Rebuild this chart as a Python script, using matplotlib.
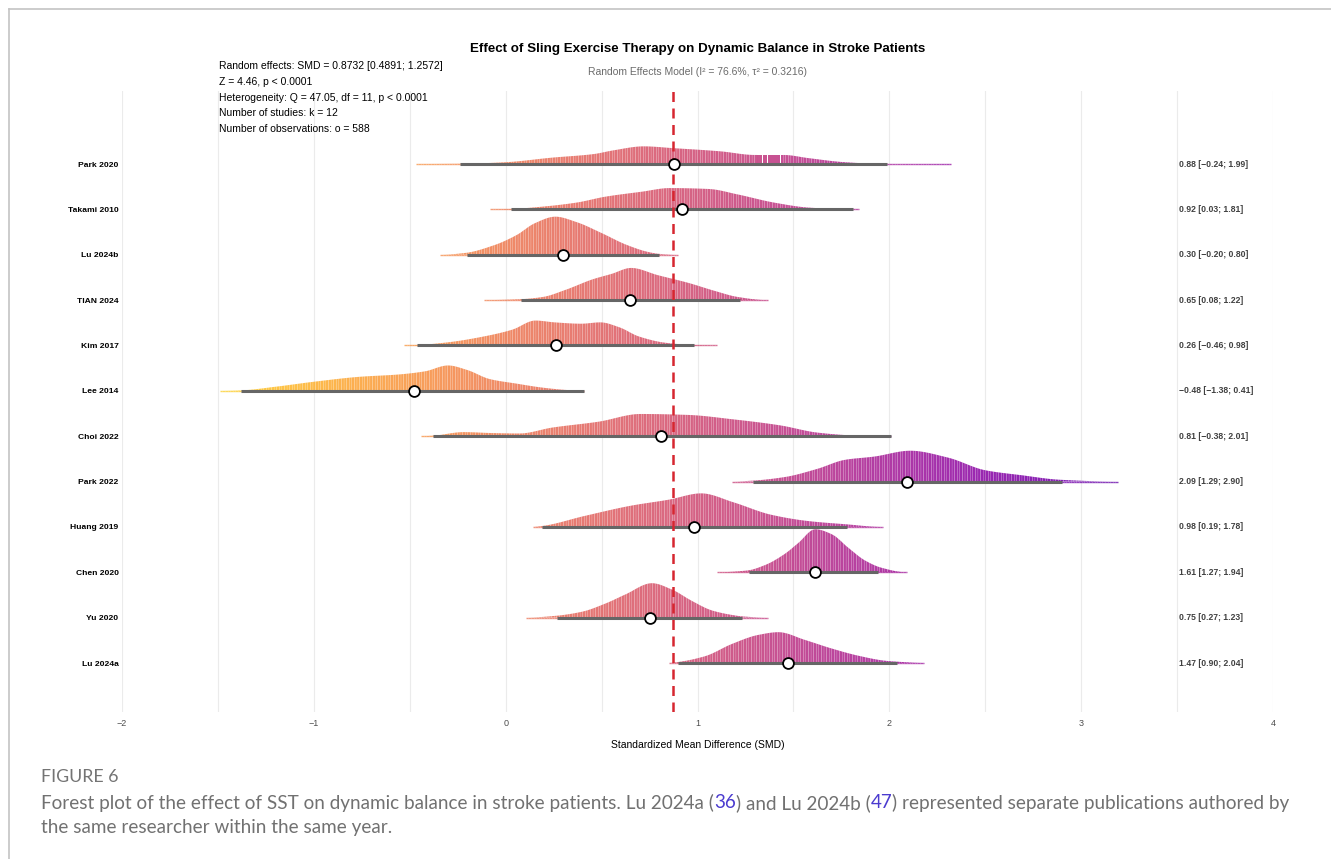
import numpy as np
import matplotlib
matplotlib.use("Agg")
import matplotlib.pyplot as plt
from matplotlib.collections import PolyCollection, LineCollection
from matplotlib.colors import ListedColormap, Normalize
from matplotlib.lines import Line2D

# ---- study-level results ----
studies = ["Park 2020", "Takami 2010", "Lu 2024b", "TIAN 2024", "Kim 2017", "Lee 2014",
           "Choi 2022", "Park 2022", "Huang 2019", "Chen 2020", "Yu 2020", "Lu 2024a"]
smd = [0.88, 0.92, 0.30, 0.65, 0.26, -0.48, 0.81, 2.09, 0.98, 1.61, 0.75, 1.47]
ci_lower = [-0.24, 0.03, -0.20, 0.08, -0.46, -1.38, -0.38, 1.29, 0.19, 1.27, 0.27, 0.90]
ci_upper = [1.99, 1.81, 0.80, 1.22, 0.98, 0.41, 2.01, 2.90, 1.78, 1.94, 1.23, 2.04]
pooled_smd = 0.8732

# ---- resampled effect-size densities (x in SMD, height in row units) ----
park2020_x = [-0.47, -0.24, 0.0, 0.24, 0.46, 0.56, 0.72, 0.875, 1.12, 1.30, 1.45, 1.58, 1.77, 1.99, 2.32]
park2020_h = [0.0, 0.005, 0.04, 0.14, 0.22, 0.30, 0.39, 0.35, 0.28, 0.20, 0.20, 0.13, 0.04, 0.0, 0.0]
takami2010_x = [-0.08, 0.03, 0.19, 0.37, 0.52, 0.71, 0.855, 1.06, 1.21, 1.40, 1.58, 1.81, 1.84]
takami2010_h = [0.0, 0.01, 0.06, 0.15, 0.28, 0.39, 0.47, 0.45, 0.33, 0.15, 0.04, 0.0, 0.0]
lu2024b_x = [-0.34, -0.21, -0.06, 0.06, 0.15, 0.26, 0.37, 0.50, 0.63, 0.745, 0.80, 0.90]
lu2024b_h = [0.0, 0.04, 0.21, 0.44, 0.69, 0.84, 0.72, 0.48, 0.22, 0.06, 0.02, 0.0]
tian2024_x = [-0.115, 0.076, 0.195, 0.315, 0.455, 0.554, 0.654, 0.794, 0.953, 1.093, 1.21, 1.365]
tian2024_h = [0.0, 0.02, 0.07, 0.23, 0.46, 0.58, 0.71, 0.55, 0.38, 0.20, 0.07, 0.0]
kim2017_x = [-0.53, -0.46, -0.30, -0.10, 0.036, 0.155, 0.255, 0.395, 0.494, 0.594, 0.694, 0.834, 0.98, 1.10]
kim2017_h = [0.0, 0.01, 0.07, 0.21, 0.35, 0.55, 0.51, 0.48, 0.51, 0.40, 0.20, 0.06, 0.01, 0.0]
lee2014_x = [-1.49, -1.38, -1.20, -1.00, -0.76, -0.56, -0.42, -0.30, -0.20, -0.083, 0.056, 0.195, 0.315, 0.41]
lee2014_h = [0.0, 0.01, 0.09, 0.20, 0.31, 0.36, 0.43, 0.56, 0.46, 0.26, 0.16, 0.07, 0.02, 0.0]
choi2022_x = [-0.44, -0.38, -0.22, -0.073, 0.073, 0.243, 0.485, 0.703, 0.947, 1.19, 1.43, 1.625, 1.80, 2.01]
choi2022_h = [0.0, 0.01, 0.09, 0.07, 0.06, 0.19, 0.32, 0.49, 0.47, 0.37, 0.24, 0.08, 0.02, 0.0]
park2022_x = [1.18, 1.286, 1.456, 1.625, 1.77, 1.92, 2.11, 2.305, 2.50, 2.69, 2.89, 3.19]
park2022_h = [0.0, 0.02, 0.10, 0.28, 0.48, 0.55, 0.68, 0.53, 0.25, 0.14, 0.04, 0.0]
huang2019_x = [0.14, 0.19, 0.41, 0.656, 0.85, 1.02, 1.19, 1.383, 1.577, 1.77, 1.965]
huang2019_h = [0.0, 0.02, 0.24, 0.47, 0.60, 0.74, 0.54, 0.27, 0.13, 0.06, 0.0]
chen2020_x = [1.10, 1.26, 1.353, 1.457, 1.527, 1.614, 1.70, 1.787, 1.874, 1.96, 2.09]
chen2020_h = [0.0, 0.04, 0.16, 0.41, 0.65, 0.95, 0.84, 0.54, 0.26, 0.10, 0.0]
yu2020_x = [0.105, 0.26, 0.398, 0.52, 0.624, 0.763, 0.867, 0.971, 1.075, 1.18, 1.23, 1.367]
yu2020_h = [0.0, 0.04, 0.13, 0.31, 0.51, 0.76, 0.62, 0.37, 0.16, 0.06, 0.03, 0.0]
lu2024a_x = [0.85, 0.896, 1.04, 1.18, 1.318, 1.423, 1.56, 1.70, 1.84, 1.98, 2.04, 2.18]
lu2024a_h = [0.0, 0.02, 0.15, 0.42, 0.62, 0.68, 0.51, 0.32, 0.16, 0.05, 0.03, 0.0]

profiles = [(park2020_x, park2020_h), (takami2010_x, takami2010_h), (lu2024b_x, lu2024b_h),
            (tian2024_x, tian2024_h), (kim2017_x, kim2017_h), (lee2014_x, lee2014_h),
            (choi2022_x, choi2022_h), (park2022_x, park2022_h), (huang2019_x, huang2019_h),
            (chen2020_x, chen2020_h), (yu2020_x, yu2020_h), (lu2024a_x, lu2024a_h)]

stat_lines = ["Random effects: SMD = 0.8732 [0.4891; 1.2572]",
              "Z = 4.46, p < 0.0001",
              "Heterogeneity: Q = 47.05, df = 11, p < 0.0001",
              "Number of studies: k = 12",
              "Number of observations: o = 588"]


def fmt(v):
    return f"{v:.2f}".replace("-", "\u2212")


def smooth_curve(x, y, xn):
    """Shape-preserving cubic (Fritsch-Carlson) curve through the profile points."""
    x = np.asarray(x, float)
    y = np.asarray(y, float)
    h = np.diff(x)
    d = np.diff(y) / h
    m = np.zeros_like(y)
    for k in range(1, len(x) - 1):
        if d[k - 1] * d[k] > 0:
            w1 = 2 * h[k] + h[k - 1]
            w2 = h[k] + 2 * h[k - 1]
            m[k] = (w1 + w2) / (w1 / d[k - 1] + w2 / d[k])
    idx = np.clip(np.searchsorted(x, xn) - 1, 0, len(x) - 2)
    t = (xn - x[idx]) / h[idx]
    h00 = 2 * t**3 - 3 * t**2 + 1
    h10 = t**3 - 2 * t**2 + t
    h01 = -2 * t**3 + 3 * t**2
    h11 = t**3 - t**2
    out = h00 * y[idx] + h10 * h[idx] * m[idx] + h01 * y[idx + 1] + h11 * h[idx] * m[idx + 1]
    return np.clip(out, 0, None)


plt.rcParams["font.family"] = ["Liberation Sans", "DejaVu Sans"]

W, H = 1331, 859
fig = plt.figure(figsize=(W / 100, H / 100), dpi=100)
fig.patch.set_facecolor("white")

L, R, T, B = 122, 1273, 91, 712
ax = fig.add_axes([L / W, 1 - B / H, (R - L) / W, (B - T) / H])
ax.set_xlim(-2, 4)
ax.set_ylim(-0.08, 13.61)
for s in ax.spines.values():
    s.set_visible(False)

grid_x = np.arange(-2, 4.01, 0.5)
ax.set_xticks(grid_x)
ax.set_xticklabels([fmt(v).replace(".00", "") if v == int(v) else "" for v in grid_x])
ax.grid(axis="x", color="#EBEBEB", lw=0.8)
ax.set_axisbelow(True)
ax.tick_params(axis="x", length=0, pad=5, labelsize=6.5, labelcolor="#4D4D4D")

rows = [len(studies) - i for i in range(len(studies))]
ax.set_yticks(rows)
ax.set_yticklabels(studies, fontsize=6.1, fontweight="bold", color="black")
ax.tick_params(axis="y", length=0, pad=2.5)

cmap = ListedColormap(plt.get_cmap("plasma")(np.linspace(0.9, 0.18, 256)))
norm = Normalize(vmin=-1.49, vmax=3.19)

step = 0.0135
gap = 0.0012
for yb, (px, ph), est, lo, hi in zip(rows, profiles, smd, ci_lower, ci_upper):
    xs = np.append(np.arange(px[0], px[-1], step), px[-1])
    hs = smooth_curve(px, ph, xs)
    quads = []
    cols = []
    for i in range(len(xs) - 1):
        xa, xb = xs[i], xs[i + 1] - gap
        quads.append([(xa, yb), (xb, yb), (xb, yb + hs[i + 1]), (xa, yb + hs[i])])
        cols.append(cmap(norm(0.5 * (xs[i] + xs[i + 1]))))
    ax.add_collection(PolyCollection(quads, facecolors=cols, edgecolors="none",
                                     antialiased=True, alpha=0.88, zorder=2))
    segs = [[(xs[i], yb), (xs[i + 1], yb)] for i in range(len(xs) - 1)]
    ax.add_collection(LineCollection(segs, colors=cols, linewidths=1.0, alpha=0.75, zorder=2))
    ax.plot([lo, hi], [yb, yb], color="#666666", lw=2.2, solid_capstyle="butt", zorder=3)
    ax.plot([est], [yb], marker="o", ms=7.8, mfc="white", mec="black", mew=1.3, zorder=5)
    ax.text(3.51, yb, f"{fmt(est)} [{fmt(lo)}; {fmt(hi)}]", ha="left", va="center",
            fontsize=6.2, fontweight="bold", color="#404040", zorder=4)

ax.axvline(pooled_smd, color="#D62630", lw=1.8, dashes=(4, 2.6), zorder=4)


def fy(py):
    return 1 - py / H


def fx(px):
    return px / W


cx = fx((L + R) / 2)
fig.text(cx, fy(49), "Effect of Sling Exercise Therapy on Dynamic Balance in Stroke Patients",
         ha="center", va="center", fontsize=9.6, fontweight="bold", color="black")
fig.text(cx, fy(72), "Random Effects Model (I\u00b2 = 76.6%, \u03c4\u00b2 = 0.3216)",
         ha="center", va="center", fontsize=7.5, color="#6B6B6B")
for i, line in enumerate(stat_lines):
    fig.text(fx(219), fy(66 + i * 15.8), line, ha="left", va="center", fontsize=7.5, color="black")
fig.text(cx, fy(745), "Standardized Mean Difference (SMD)", ha="center", va="center",
         fontsize=7.5, color="black")

# Open frame around the figure panel
fig.add_artist(Line2D([fx(9), 1.0], [fy(9), fy(9)], transform=fig.transFigure, color="#C4C4C4", lw=1.2))
fig.add_artist(Line2D([fx(9), fx(9)], [fy(9), 0.0], transform=fig.transFigure, color="#C4C4C4", lw=1.2))

# Caption
cap_font = ["Lato", "DejaVu Sans"]
fig.text(fx(41), fy(777), "FIGURE 6", ha="left", va="center", fontsize=12.8,
         family=cap_font, fontweight="normal", color="#747474")

renderer = fig.canvas.get_renderer()


def caption_line(pieces, x0, y0):
    x = x0
    for text, color in pieces:
        t = fig.text(x, y0, text, ha="left", va="center", fontsize=13.6, family=cap_font, color=color)
        bb = t.get_window_extent(renderer=renderer)
        x = bb.x1 / W


grey = "#717171"
blue = "#4B3BCF"
caption_line([("Forest plot of the effect of SST on dynamic balance in stroke patients. Lu 2024a (", grey),
              ("36", blue), (") and Lu 2024b (", grey), ("47", blue),
              (") represented separate publications authored by", grey)], fx(41), fy(803))
caption_line([("the same researcher within the same year.", grey)], fx(41), fy(827))

fig.savefig("out.png", dpi=100, facecolor="white")
